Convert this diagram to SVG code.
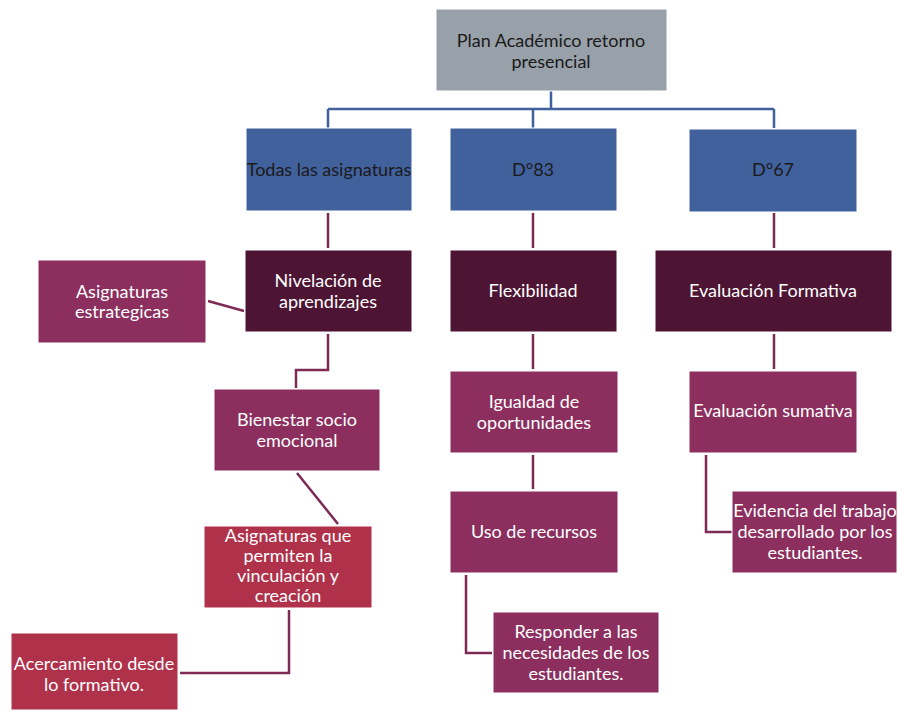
<svg xmlns="http://www.w3.org/2000/svg" width="898" height="711" viewBox="0 0 898 711">
<style>
text{font-family:Lato,"Open Sans","Liberation Sans",sans-serif;font-size:18px;text-anchor:middle}
.w{fill:#ffffff}
.k{fill:#1a1a1a}
rect{stroke:#ffffff;stroke-width:1}
.gray{fill:#98a0a9}
.blue{fill:#41619d}
.dark{fill:#4d1533}
.mag{fill:#8c2f5e}
.red{fill:#b0314a}
.cb{fill:none;stroke:#41619d;stroke-width:2.5}
.cm{fill:none;stroke:#7d2a55;stroke-width:2.5}
</style>
<rect width="898" height="711" fill="#ffffff" stroke="none"/>
<g id="connectors">
<path class="cb" d="M551 91V109M328 109H774M328 109V128M533 109V128M774 109V128"/>
<path class="cm" d="M328 213V248M533 213V248M774 213V248"/>
<path class="cm" d="M208 301L244 311"/>
<path class="cm" d="M328 334V370H296V388"/>
<path class="cm" d="M297 473L338 524"/>
<path class="cm" d="M289 610V673H180"/>
<path class="cm" d="M533 334V369M533 455V489"/>
<path class="cm" d="M466 575V653H492"/>
<path class="cm" d="M774 334V369"/>
<path class="cm" d="M706 455V532H732"/>
</g>
<g id="plan"><rect class="gray" x="436" y="9" width="231" height="82"/><text class="k" x="551" y="47">Plan Académico retorno</text><text class="k" x="551" y="68">presencial</text></g>
<g id="todas"><rect class="blue" x="246" y="128" width="166" height="83"/><text class="k" x="329" y="176">Todas las asignaturas</text></g>
<g id="d83"><rect class="blue" x="450" y="128" width="167" height="83"/><text class="k" x="533" y="176">D°83</text></g>
<g id="d67"><rect class="blue" x="689" y="129" width="168" height="83"/><text class="k" x="773" y="176">D°67</text></g>
<g id="nivelacion"><rect class="dark" x="245" y="250" width="167" height="82"/><text class="w" x="328" y="287">Nivelación de</text><text class="w" x="328" y="308">aprendizajes</text></g>
<g id="flexibilidad"><rect class="dark" x="450" y="250" width="167" height="82"/><text class="w" x="533" y="297">Flexibilidad</text></g>
<g id="evalform"><rect class="dark" x="655" y="250" width="237" height="82"/><text class="w" x="773" y="297">Evaluación Formativa</text></g>
<g id="estrategicas"><rect class="mag" x="38" y="260" width="168" height="83"/><text class="w" x="122" y="298">Asignaturas</text><text class="w" x="122" y="318">estrategicas</text></g>
<g id="bienestar"><rect class="mag" x="214" y="389" width="166" height="82"/><text class="w" x="297" y="426">Bienestar socio</text><text class="w" x="297" y="447">emocional</text></g>
<g id="igualdad"><rect class="mag" x="450" y="371" width="168" height="82"/><text class="w" x="534" y="408">Igualdad de</text><text class="w" x="534" y="429">oportunidades</text></g>
<g id="uso"><rect class="mag" x="450" y="491" width="168" height="82"/><text class="w" x="534" y="538">Uso de recursos</text></g>
<g id="responder"><rect class="mag" x="493" y="612" width="166" height="81"/><text class="w" x="576" y="638">Responder a las</text><text class="w" x="576" y="659">necesidades de los</text><text class="w" x="576" y="680">estudiantes.</text></g>
<g id="sumativa"><rect class="mag" x="689" y="371" width="168" height="82"/><text class="w" x="773" y="417">Evaluación sumativa</text></g>
<g id="evidencia"><rect class="mag" x="732" y="491" width="165" height="82"/><text class="w" x="815" y="517">Evidencia del trabajo</text><text class="w" x="815" y="538">desarrollado por los</text><text class="w" x="815" y="559">estudiantes.</text></g>
<g id="vinculacion"><rect class="red" x="204" y="526" width="168" height="82"/><text class="w" x="288" y="542">Asignaturas que</text><text class="w" x="288" y="562">permiten la</text><text class="w" x="288" y="582">vinculación y</text><text class="w" x="288" y="602">creación</text></g>
<g id="acercamiento"><rect class="red" x="11" y="633" width="167" height="77"/><text class="w" x="94" y="670">Acercamiento desde</text><text class="w" x="94" y="691">lo formativo.</text></g>
</svg>
